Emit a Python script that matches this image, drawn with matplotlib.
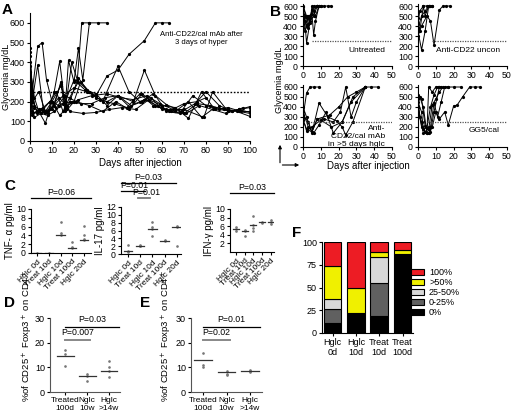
import matplotlib
matplotlib.use("Agg")
import matplotlib.pyplot as plt
from matplotlib.patches import Patch, FancyArrowPatch

plt.rcParams["font.family"] = ["Liberation Sans", "DejaVu Sans"]
plt.rcParams["font.size"] = 6.5
plt.rcParams["axes.linewidth"] = 0.8

W, H = 513, 417

# ---- panel A: glycemia after anti-CD22/cal mAb (days, mg/dL) ----
a_days = [
    [0, 1, 3.5, 5.5, 7.5, 10, 13.5, 16, 19, 21.5, 23.5, 27, 31, 35],
    [0, 1, 3.5, 6, 8, 11, 13.5, 16, 17.5, 20, 22, 24, 27],
    [0, 2, 4, 7, 10, 14, 17, 20, 23, 27, 30, 35, 40, 45, 52, 57, 60, 63],
    [0, 1, 3, 5, 8, 11, 14, 16, 18, 22, 26, 30, 35, 40, 46, 52, 58, 64, 70, 76, 82, 88, 94, 100],
    [0, 1, 3, 6, 9, 12, 15, 18, 22, 27, 33, 40, 45, 50, 55, 60, 66, 72, 78, 84, 90, 95, 100],
    [0, 2, 4, 7, 10, 13, 16, 20, 25, 30, 35, 40, 47, 52, 57, 62, 68, 74, 80, 86, 92, 100],
    [0, 1, 3, 5, 7, 10, 14, 18, 24, 30, 36, 42, 48, 54, 60, 66, 72, 78, 84, 90, 96, 100],
    [0, 2, 5, 8, 11, 15, 19, 23, 28, 34, 40, 45, 51, 56, 62, 69, 75, 80, 86, 92, 97],
    [0, 1, 4, 7, 11, 15, 20, 26, 32, 38, 44, 50, 56, 62, 70, 79, 83, 90, 95, 100],
    [0, 2, 4, 6, 9, 13, 17, 22, 28, 35, 41, 47, 53, 59, 65, 71, 77, 83, 89, 95, 100],
    [0, 1, 3, 6, 9, 12, 16, 21, 27, 33, 39, 45, 51, 57, 63, 70, 76, 80],
]
a_vals = [
    [470, 250, 480, 500, 310, 200, 130, 160, 400, 310, 600, 600, 600, 600],
    [430, 200, 385, 160, 140, 250, 405, 170, 410, 300, 470, 310, 600],
    [400, 170, 150, 140, 160, 290, 160, 200, 300, 250, 230, 330, 360, 440, 510, 600, 600, 600],
    [350, 130, 150, 140, 150, 180, 300, 150, 200, 320, 260, 220, 200, 230, 180, 210, 180, 150, 140, 190, 180, 160, 150, 125],
    [300, 150, 140, 160, 200, 250, 150, 220, 300, 250, 200, 380, 250, 200, 220, 160, 150, 200, 120, 170, 160, 150, 140],
    [380, 220, 150, 90, 200, 180, 200, 310, 260, 240, 180, 230, 200, 360, 230, 150, 140, 230, 180, 160, 150, 175],
    [270, 140, 150, 160, 150, 200, 280, 150, 140, 145, 160, 170, 160, 210, 180, 170, 115, 250, 160, 170, 150, 150],
    [250, 120, 140, 130, 150, 190, 200, 190, 190, 220, 230, 175, 200, 240, 185, 150, 190, 250, 180, 150, 170],
    [450, 200, 250, 150, 180, 230, 270, 250, 210, 190, 170, 240, 180, 160, 160, 120, 250, 150, 160, 170],
    [330, 180, 160, 150, 160, 220, 180, 210, 230, 240, 220, 210, 230, 190, 160, 140, 180, 160, 140, 160, 145],
    [260, 230, 150, 170, 200, 170, 230, 200, 180, 150, 200, 160, 240, 180, 150, 190, 200, 220],
]

# ---- panel B: four treatment groups (days, mg/dL) ----
b_untreated_days = [[0, 2, 4, 6, 8, 10, 12, 14, 16], [0, 1, 2, 4, 6, 8, 10], [0, 2, 3, 5, 6, 7, 9],
                    [0, 1, 3, 4, 6, 8], [0, 2, 4, 5, 7, 9], [0, 1, 3, 5, 8]]
b_untreated_vals = [[590, 480, 500, 550, 600, 600, 600, 600, 600], [560, 450, 230, 450, 500, 600, 600],
                    [480, 400, 500, 520, 310, 450, 600], [420, 500, 380, 480, 600, 600],
                    [600, 500, 430, 600, 500, 600], [520, 350, 420, 560, 600]]
b_uncon_days = [[0, 2, 4, 6, 8], [0, 2, 5, 7, 9, 12, 14, 16, 18], [0, 1, 3, 5, 7],
                [0, 2, 4, 6], [0, 1, 3, 4, 6, 8]]
b_uncon_vals = [[350, 160, 350, 600, 600], [300, 400, 500, 450, 210, 560, 600, 600, 600],
                [420, 550, 600, 600, 600], [380, 500, 550, 600], [480, 350, 600, 500, 600, 600]]
b_late_days = [[0, 2, 4, 6, 9], [0, 2, 5, 8, 12, 17, 21, 24, 27, 30, 35, 38, 42],
               [0, 3, 5, 9, 14, 19, 22, 24, 28, 35], [0, 2, 5, 8, 15, 20, 25, 30, 35],
               [0, 3, 6, 9, 13, 17, 22, 28, 35], [0, 2, 5, 10, 16, 22, 27, 35]]
b_late_vals = [[300, 540, 600, 600, 600], [400, 300, 150, 280, 280, 250, 350, 600, 300, 450, 600, 600, 600],
               [320, 250, 140, 440, 300, 260, 200, 120, 250, 600], [270, 180, 150, 280, 320, 400, 500, 550, 600],
               [350, 200, 140, 220, 350, 140, 250, 500, 600], [290, 160, 200, 270, 200, 250, 450, 600]]
b_gg5_days = [[0, 2, 4, 6, 8, 10, 12, 14, 17, 20, 24], [0, 1, 3, 5, 7, 9, 11, 13, 15, 17],
              [0, 2, 4, 6, 8, 10, 12, 15, 17, 20, 22, 25, 29, 32, 35], [0, 2, 3, 5, 7, 9, 11, 13],
              [0, 1, 3, 5, 6, 8, 10, 12], [0, 2, 4, 6, 7, 9, 12]]
b_gg5_vals = [[500, 480, 210, 180, 420, 480, 550, 600, 600, 600, 600],
              [520, 300, 140, 140, 200, 440, 300, 450, 600, 600],
              [400, 200, 150, 140, 200, 350, 280, 350, 220, 410, 420, 500, 600, 600, 600],
              [450, 350, 180, 190, 400, 520, 600, 600], [480, 500, 400, 140, 600, 550, 600, 600],
              [400, 250, 150, 200, 150, 350, 600]]

# ---- panel C: cytokines ----
c_groups = ["Hglc 0d", "Treat 10d", "Hglc 10d", "Treat 100d", "Hglc 20d"]
tnf_points = [[0.05], [0.05], [7.1, 4.5, 4.0], [2.4, 1.3, 1.1], [6.1, 4.0, 3.2, 2.9]]
tnf_median = [0.05, 0.05, 4.0, 1.2, 3.0]
il17_points = [[2.2, 0.8, 0.6], [2.2, 2.1, 2.0], [8.2, 6.8, 6.5, 4.5], [3.5, 3.4], [7.2, 6.9, 2.1]]
il17_median = [0.8, 2.1, 6.5, 3.4, 6.9]
ifn_points = [[5.8, 5.4, 4.8], [5.1, 4.8, 3.8], [8.3, 6.2, 5.5, 5.0], [7.0, 6.8], [7.4, 7.0, 6.6]]
ifn_median = [5.4, 4.8, 6.2, 6.9, 7.0]

# ---- panels D, E: % CD25+ Foxp3+ on CD4+ ----
de_groups = ["Treated\n100d", "Nglc\n10w", "Hglc\n>14w"]
d_points = [[17, 15.5, 10.5], [7.5, 6.5, 4.5], [12.5, 10, 8.5, 6]]
d_median = [14.5, 6.5, 8.5]
e_points = [[16, 11, 10], [8.5, 7.5, 7], [8.8, 8.5, 8.3]]
e_median = [13, 8, 8.5]

# ---- panel F: stacked percentages ----
f_groups = ["Hglc\n0d", "Hglc\n10d", "Treat\n10d", "Treat\n100d"]
f_levels = ["0%", "0-25%", "25-50%", ">50%", "100%"]
f_pct_0 = [11, 22, 19, 87]
f_pct_0_25 = [15, 0, 36, 0]
f_pct_25_50 = [11, 0, 28, 0]
f_pct_gt50 = [37, 28, 6, 4]
f_pct_100 = [26, 50, 11, 9]
f_colors = ["#000000", "#606060", "#d8d8d8", "#f0f000", "#ed1c24"]


def box(x0, y0, x1, y1):
    return [x0 / W, 1 - y1 / H, (x1 - x0) / W, (y1 - y0) / H]


def fx(x):
    return x / W


def fy(y):
    return 1 - y / H


def style(ax, size=6.5):
    ax.spines["top"].set_visible(False)
    ax.spines["right"].set_visible(False)
    ax.tick_params(length=2.5, width=0.8, pad=1.2, labelsize=size)


def plot_glycemia(ax, days, vals, xmax, ymax, size):
    for d, v in zip(days, vals):
        ax.plot(d, v, color="black", lw=0.7, marker="o", ms=1.3)
    ax.set_xlim(0, xmax)
    ax.set_ylim(0, ymax)
    style(ax, size)


def plot_strip(ax, points, median, ylim, yticks):
    for i, pts in enumerate(points):
        ax.plot([i] * len(pts), pts, ls="none", marker="o", ms=0.9, color="#777777")
        ax.plot([i - 0.35, i + 0.35], [median[i]] * 2, color="#333333", lw=0.9)
    ax.set_ylim(*ylim)
    ax.set_yticks(yticks)
    style(ax, 6.3)


def p_bar(ax, x0, x1, y, text, color="black", lw=0.9, ty=None, tx=None):
    ax.plot([x0, x1], [y, y], color=color, lw=lw, clip_on=False)
    ax.text((x0 + x1) / 2 if tx is None else tx, y if ty is None else ty, text,
            ha="center", va="bottom", fontsize=6.3, clip_on=False)


def arrow(fig, p0, p1):
    fig.add_artist(FancyArrowPatch((fx(p0[0]), fy(p0[1])), (fx(p1[0]), fy(p1[1])),
                                   transform=fig.transFigure, arrowstyle="-|>",
                                   mutation_scale=5, lw=0.8, color="black"))


fig = plt.figure(figsize=(W / 100, H / 100), dpi=100)

# A
ax = fig.add_axes(box(30, 13, 250, 141))
plot_glycemia(ax, a_days, a_vals, 100, 650, 6.5)
ax.axhline(250, color="black", lw=1.0, ls=(0, (1.2, 1.2)))
ax.set_xticks(range(0, 101, 10))
ax.set_yticks(range(0, 601, 100))
ax.set_xlabel("Days after injection", fontsize=7, labelpad=2)
fig.text(fx(6.5), fy(77), "Glycemia mg/dL", rotation=90, ha="center", va="center", fontsize=6.6)
ax.text(78, 520, "Anti-CD22/cal mAb after\n3 days of hyper", ha="center", va="center", fontsize=5.5)
fig.text(fx(2), fy(10), "A", fontsize=11, fontweight="bold", va="center")

# B
b_specs = [
    ((303, 4, 392, 66), b_untreated_days, b_untreated_vals, "Untreated", 5),
    ((418, 4, 507, 66), b_uncon_days, b_uncon_vals, "Anti-CD22 uncon", 8),
    ((303, 85, 392, 147), b_late_days, b_late_vals, "Anti-\nCD22/cal mAb\nin >5 days hglc", 0),
    ((418, 85, 507, 147), b_gg5_days, b_gg5_vals, "GG5/cal", 5),
]
for rect, days, vals, label, dstart in b_specs:
    ax = fig.add_axes(box(*rect))
    plot_glycemia(ax, days, vals, 50, 620, 6.3)
    ax.plot([dstart, 50], [250, 250], color="#555555", lw=0.9, ls=(0, (1, 1)))
    ax.set_xticks(range(0, 51, 10))
    ax.set_yticks(range(0, 601, 100))
    ax.text(46, 160 if "\n" not in label else 105, label, ha="right", va="center",
            fontsize=6.0, linespacing=1.1)
fig.text(fx(270), fy(12), "B", fontsize=11, fontweight="bold", va="center")
fig.text(fx(279), fy(80), "Glycemia mg/dL", rotation=90, ha="center", va="center", fontsize=6.6)
fig.text(fx(368), fy(166), "Days after injection", ha="center", va="center", fontsize=7)
arrow(fig, (280, 165.5), (280, 142))
arrow(fig, (279.6, 165), (302, 165))

# C
c_specs = [
    ((31, 209, 91, 253), tnf_points, tnf_median, (0, 10), [0, 2, 4, 6, 8, 10], "TNF- \u03b1 pg/ml", (-0.52, 4.6)),
    ((121, 207, 181, 254), il17_points, il17_median, (0, 12), list(range(0, 13, 2)), "IL-17 pg/ml", (-0.58, 4.35)),
    ((230, 209, 274, 252), ifn_points, ifn_median, (0, 10), [2, 4, 6, 8, 10], "IFN-\u03b3 pg/ml", (-0.7, 4.4)),
]
c_axes = []
for rect, pts, med, ylim, yticks, ylabel, xlim in c_specs:
    ax = fig.add_axes(box(*rect))
    plot_strip(ax, pts, med, ylim, yticks)
    ax.set_xlim(*xlim)
    ax.set_xticks(range(len(c_groups)))
    ax.set_xticklabels(c_groups, rotation=45, ha="right", rotation_mode="anchor", fontsize=6)
    ax.set_ylabel(ylabel, fontsize=7, labelpad=1)
    c_axes.append(ax)
p_bar(c_axes[0], -0.52, 4.6, 12.5, "P=0.06", ty=12.7)
p_bar(c_axes[1], -0.58, 3.9, 18.1, "P=0.03", ty=18.3)
p_bar(c_axes[1], -0.58, 1.4, 16.1, "P=0.01", ty=16.3, tx=0.5)
p_bar(c_axes[1], 0.8, 1.8, 14.3, "P=0.01", color="#777777", lw=1.3, ty=14.5, tx=1.5)
p_bar(c_axes[2], -0.7, 4.4, 13.7, "P=0.03", ty=13.9)
fig.text(fx(4), fy(186), "C", fontsize=11, fontweight="bold", va="center")

# D, E
de_specs = [
    ((50, 318, 120, 392), d_points, d_median, (-0.7, 2.5), "P=0.03", "P=0.007", 2.45, 28),
    ((191, 318, 262, 392), e_points, e_median, (-0.5, 2.5), "P=0.01", "P=0.02", 2.4, 167),
]
for rect, pts, med, xlim, p_long, p_short, xend, lx in de_specs:
    ax = fig.add_axes(box(*rect))
    for i, vals in enumerate(pts):
        ax.plot([i] * len(vals), vals, ls="none", marker="o", ms=0.9, color="#777777")
        ax.plot([i - 0.38, i + 0.38], [med[i]] * 2, color="#333333", lw=0.9)
    style(ax, 6.5)
    ax.set_ylim(0, 30)
    ax.set_yticks([0, 10, 20, 30])
    ax.set_xlim(*xlim)
    ax.set_xticks(range(len(de_groups)))
    ax.set_xticklabels(de_groups, fontsize=6, linespacing=1.1)
    ax.spines["left"].set_color("#555555")
    ax.spines["bottom"].set_color("#555555")
    p_bar(ax, 0, xend, 26.3, p_long, ty=27.4)
    p_bar(ax, 0, 1.15, 21.0, p_short, color="#888888", lw=1.4, ty=22.1)
    fig.text(fx(lx), fy(336), "%of CD25$^+$ Foxp3$^+$ on CD4$^+$", rotation=90,
             ha="center", va="center", fontsize=6.8)
fig.text(fx(4), fy(303), "D", fontsize=11, fontweight="bold", va="center")
fig.text(fx(140), fy(303), "E", fontsize=11, fontweight="bold", va="center")

# F
ax = fig.add_axes(box(322, 242, 413, 333))
layers = [f_pct_0, f_pct_0_25, f_pct_25_50, f_pct_gt50, f_pct_100]
bottom = [0] * len(f_groups)
for vals, color in zip(layers, f_colors):
    ax.bar(range(len(f_groups)), vals, bottom=bottom, width=0.77, color=color,
           edgecolor="black", linewidth=0.8)
    bottom = [b + v for b, v in zip(bottom, vals)]
style(ax, 6.5)
ax.set_ylim(0, 100)
ax.set_yticks([0, 25, 50, 75, 100])
ax.set_xlim(-0.45, 3.45)
ax.set_xticks(range(len(f_groups)))
ax.set_xticklabels(f_groups, fontsize=6.5, linespacing=1.1)
handles = [Patch(facecolor=c, edgecolor="black", linewidth=0.8, label=l)
           for c, l in zip(f_colors[::-1], f_levels[::-1])]
fig.legend(handles=handles, loc="upper left", bbox_to_anchor=(fx(411), fy(268)), frameon=False,
           fontsize=6.5, handlelength=1.4, handleheight=0.65, labelspacing=0.12, handletextpad=0.6,
           borderaxespad=0, borderpad=0)
fig.text(fx(292), fy(233), "F", fontsize=11, fontweight="bold", va="center")

fig.savefig("out.png", dpi=100)
